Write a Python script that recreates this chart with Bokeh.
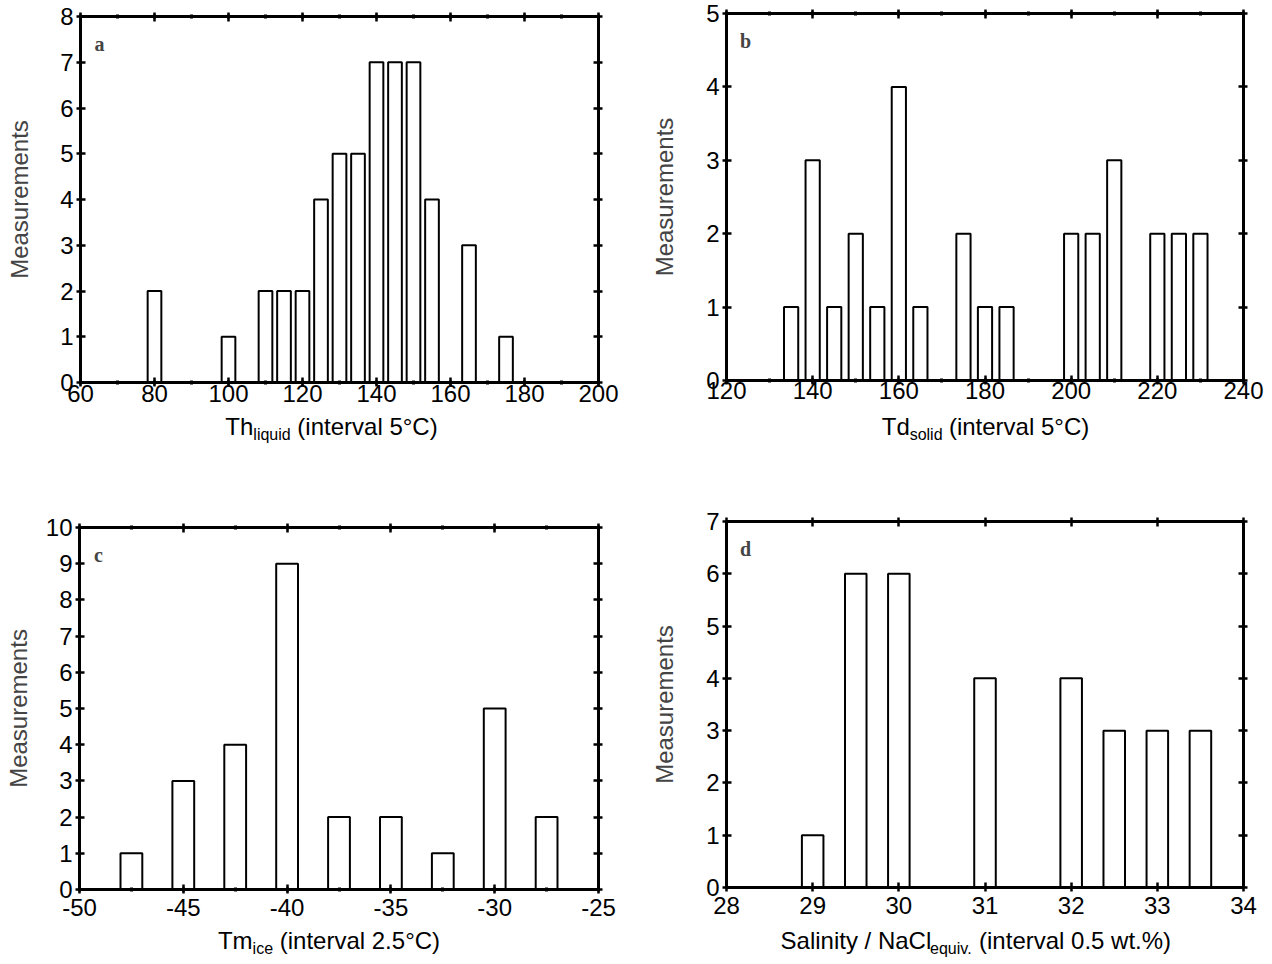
from bokeh.plotting import figure
from bokeh.layouts import column, row
from bokeh.models import (Range1d, LinearAxis, SingleIntervalTicker, Label,
                          CustomJSTickFormatter)
from bokeh.embed import file_html
from bokeh.resources import INLINE

# ---------------- data ----------------
a_temp = [80, 100, 110, 115, 120, 125, 130, 135, 140, 145, 150, 155, 165, 175]
a_count = [2, 1, 2, 2, 2, 4, 5, 5, 7, 7, 7, 4, 3, 1]

b_temp = [135, 140, 145, 150, 155, 160, 165, 175, 180, 185, 200, 205, 210, 220, 225, 230]
b_count = [1, 3, 1, 2, 1, 4, 1, 2, 1, 1, 2, 2, 3, 2, 2, 2]

c_temp = [-47.5, -45, -42.5, -40, -37.5, -35, -32.5, -30, -27.5]
c_count = [1, 3, 4, 9, 2, 2, 1, 5, 2]

d_salinity = [29, 29.5, 30, 31, 32, 32.5, 33, 33.5]
d_count = [1, 6, 6, 4, 4, 3, 3, 3]

y_label = "Measurements"
a_xlabel = [("Th", False), ("liquid", True), ("(interval 5°C)", False)]
b_xlabel = [("Td", False), ("solid", True), ("(interval 5°C)", False)]
c_xlabel = [("Tm", False), ("ice", True), ("(interval 2.5°C)", False)]
d_xlabel = [("Salinity / NaCl", False), ("equiv.", True), ("(interval 0.5 wt.%)", False)]

FONT = "Liberation Sans"
MAIN = 24
SUB = 16

# Arial / Liberation Sans advance widths (per 1000 em)
WID = {' ': 278, '(': 333, ')': 333, '/': 278, '.': 278, '%': 889, '°': 400,
       'a': 556, 'b': 556, 'c': 500, 'd': 556, 'e': 556, 'f': 278, 'g': 556, 'h': 556,
       'i': 222, 'j': 222, 'k': 500, 'l': 222, 'm': 833, 'n': 556, 'o': 556, 'p': 556,
       'q': 556, 'r': 333, 's': 500, 't': 278, 'u': 556, 'v': 500, 'w': 722, 'x': 500,
       'y': 500, 'z': 500, 'A': 667, 'C': 722, 'N': 722, 'S': 667, 'T': 611}


def tw(s, size):
    return sum(WID.get(ch, 556) for ch in s) * size / 1000.0


def panel(letter, xs, ys, xr, yr, xint, xminor, barw, width, height, strip_h,
          bl, br, bt, bb, xl_pieces, lab_dx, lab_base, xtick_standoff, ylab_standoff):
    p = figure(width=width, height=height, output_backend="svg", toolbar_location=None,
               x_range=Range1d(*xr), y_range=Range1d(*yr),
               min_border_left=bl, min_border_right=br, min_border_top=bt, min_border_bottom=bb,
               x_axis_type=None, y_axis_type=None)
    p.background_fill_color = "white"
    p.border_fill_color = "white"
    p.outline_line_color = "black"
    p.outline_line_width = 3

    def xt():
        return SingleIntervalTicker(interval=xint, num_minor_ticks=xminor)

    def yt():
        return SingleIntervalTicker(interval=1, num_minor_ticks=0)

    common = dict(axis_line_width=3, axis_line_color="black",
                  major_tick_line_width=2.5, minor_tick_line_width=3,
                  major_tick_in=5, major_tick_out=4, minor_tick_in=2, minor_tick_out=2,
                  major_label_text_font=FONT, major_label_text_font_size=f"{MAIN}px",
                  major_label_text_color="black")
    fmt = "return String(tick)"

    xb = LinearAxis(ticker=xt(), major_label_standoff=xtick_standoff,
                    formatter=CustomJSTickFormatter(code=fmt), **common)
    p.add_layout(xb, "below")
    yl = LinearAxis(ticker=yt(), major_label_standoff=3, axis_label=y_label,
                    formatter=CustomJSTickFormatter(code=fmt),
                    axis_label_text_font=FONT, axis_label_text_font_size=f"{MAIN}px",
                    axis_label_text_font_style="normal", axis_label_standoff=ylab_standoff,
                    **common)
    p.add_layout(yl, "left")
    hidden = dict(common)
    hidden["major_label_text_font_size"] = "1px"
    xa = LinearAxis(ticker=xt(), major_label_standoff=0,
                    formatter=CustomJSTickFormatter(code="return ''"), **hidden)
    p.add_layout(xa, "above")
    yr_ax = LinearAxis(ticker=yt(), major_label_standoff=0,
                       formatter=CustomJSTickFormatter(code="return ''"), **hidden)
    p.add_layout(yr_ax, "right")

    p.vbar(x=xs, top=ys, bottom=0, width=barw, fill_color="white",
           line_color="black", line_width=2)

    # panel letter
    p.add_layout(Label(x=xr[0], y=yr[1], x_offset=19, y_offset=-27, text=letter,
                       text_font="Liberation Serif", text_font_style="bold",
                       text_font_size="20px", text_align="center", text_baseline="middle"))
    p.grid.visible = False

    # strip below holding the x-axis title (with subscript); its frame aligns
    # with the plot frame, so its x range is expressed in canvas pixels
    s = figure(width=width, height=strip_h, output_backend="svg", toolbar_location=None,
               x_range=Range1d(bl, width - br), y_range=Range1d(0, strip_h),
               min_border_left=0, min_border_right=0, min_border_top=0, min_border_bottom=0,
               x_axis_type=None, y_axis_type=None)
    s.outline_line_color = None
    s.background_fill_color = "white"
    s.border_fill_color = "white"
    s.grid.visible = False

    space = tw(" ", MAIN)
    total = 0.0
    for i, (t, sub) in enumerate(xl_pieces):
        total += tw(t, SUB if sub else MAIN)
        if i == len(xl_pieces) - 1:
            total += space
    frame_center = bl + (width - bl - br) / 2.0
    xpos = frame_center + lab_dx - total / 2.0
    for i, (t, sub) in enumerate(xl_pieces):
        if i == len(xl_pieces) - 1:
            xpos += space
        size = SUB if sub else MAIN
        s.add_layout(Label(x=xpos, y=strip_h - lab_base - (8 if sub else 0), text=t,
                           text_font=FONT, text_font_size=f"{size}px",
                           text_align="left", text_baseline="alphabetic",
                           text_color="black"))
        xpos += tw(t, size)
    return column(p, s)


pa = panel("a", a_temp, a_count, (60, 200), (0, 8), 20, 2, 3.7, 648, 412, 66,
           80, 50, 16, 30, a_xlabel, -8, 14, -2, 24)
pb = panel("b", b_temp, b_count, (120, 240), (0, 5), 20, 2, 3.3, 624, 412, 66,
           74, 29, 13, 32, b_xlabel, 0, 14, -3, 25)
pc = panel("c", c_temp, c_count, (-50, -25), (0, 10), 5, 2, 1.05, 648, 448, 38,
           79, 50, 49, 37, c_xlabel, -10, 14, 5, 11)
pd = panel("d", d_salinity, d_count, (28, 34), (0, 7), 1, 0, 0.25, 624, 448, 38,
           74, 29, 43, 39, d_xlabel, -10, 14, 5, 25)

layout = column(row(pa, pb), row(pc, pd))
open("out.html", "w").write(file_html(layout, INLINE))
